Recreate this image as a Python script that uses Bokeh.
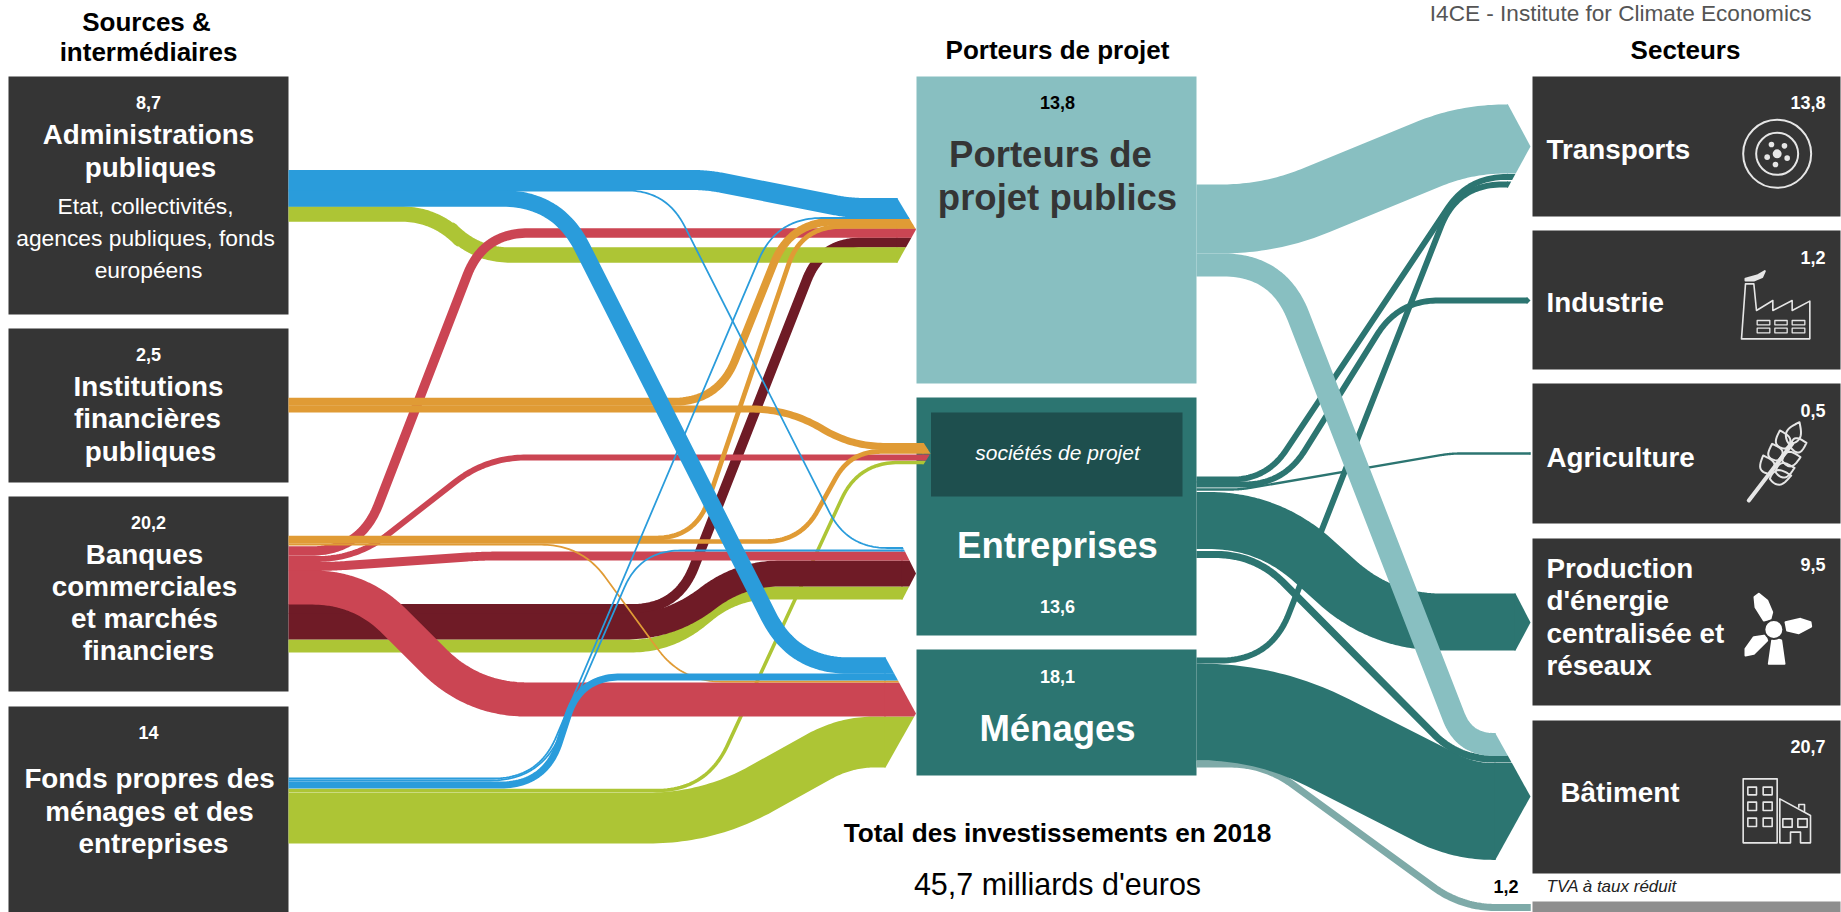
import math
import numpy as np
from bokeh.core.properties import value
from bokeh.embed import file_html
from bokeh.models import Range1d
from bokeh.plotting import figure
from bokeh.resources import INLINE

# ---------- chart values (milliards d'euros) ----------
source_names = ["Administrations publiques", "Institutions financières publiques",
                "Banques commerciales et marchés financiers", "Fonds propres des ménages et des entreprises"]
source_totals = ["8,7", "2,5", "20,2", "14"]
carrier_names = ["Porteurs de projet publics", "Entreprises", "Ménages"]
carrier_totals = ["13,8", "13,6", "18,1"]
sector_names = ["Transports", "Industrie", "Agriculture", "Production d'énergie centralisée et réseaux", "Bâtiment"]
sector_totals = ["13,8", "1,2", "0,5", "9,5", "20,7"]
vat_total = "1,2"
total_label = "45,7 milliards d'euros"

left_link_values = [8.64, 0.6, 2.2, 1.7, 4.4, 2.6, 1.6, 1.0, 1.5, 5.8,
                    1.35, 1.2, 0.8, 0.8, 0.3, 0.3, 0.3, 0.3, 1.2, 3.4, 2.8]
left_link_targets = ["men", "soc", "ent", "por", "ent", "por", "por", "soc", "ent", "men",
                     "por", "soc", "por", "soc", "men", "ent", "por", "ent", "men", "por", "men"]
left_link_colors = ["green", "green", "green", "wine", "wine", "green", "red", "red", "red", "red",
                    "orange", "orange", "orange", "orange", "orange", "blue", "blue", "blue", "blue", "blue", "blue"]

right_link_values = [1.2, 16.4, 1.0, 1.0, 1.0, 0.4, 9.66, 1.2, 3.9, 11.7]
right_link_targets = ["vat", "bat", "tra", "tra", "ind", "agr", "pro", "bat", "bat", "tra"]
right_link_colors = ["vat", "teal", "teal", "teal", "teal", "teal", "teal", "teal", "light", "light"]

# ---------- layout and styles ----------
PX_PER_UNIT = 5.9
COLORS = dict(green="#ADC535", wine="#6F1B26", red="#CB4553", orange="#E09B35", blue="#2A9CDB",
              teal="#2C7571", light="#88BFC1", vat="#7EAAA8")
DARK = "#353535"
FONT = "Liberation Sans"
LEFT_X, MID_X = 288, 1196

# arrow heads: shoulder x, tip x, top y, tip y, bottom y
HEADS = dict(por=(897, 915.5, 198, 229, 262), soc=(923, 930, 442, 453, 464), ent=(902, 915.5, 546, 573, 599),
             men=(885, 915.5, 657, 713, 767), tra=(1507.5, 1530, 104, 146, 187), ind=(1527, 1530, 297, 300, 303),
             agr=(1530, 1530, 452, 453, 454), pro=(1515, 1530, 593, 622, 650), bat=(1495, 1530, 733, 796, 859),
             vat=(1530, 1530, 903, 907, 911))

LEFT_ROUTES = [
    ([(LEFT_X, 817.5), (708, 817.5), (845, 741.5)], [60, 30], 741.5),
    ([(LEFT_X, 790), (706, 790), (858, 462)], [50, 40], 462),
    ([(LEFT_X, 645.5), (670, 645.5), (735, 592.5)], [40, 35], 592.5),
    ([(LEFT_X, 608.5), (677, 608.5), (821, 242)], [45, 40], 242),
    ([(LEFT_X, 626), (670, 626), (740, 573)], [45, 40], 573),
    ([(LEFT_X, 213.5), (435, 213.5), (475, 254.5)], [35, 35], 254.5),
    ([(LEFT_X, 550.5), (360, 550.5), (483, 232.5)], [50, 45], 232.5),
    ([(LEFT_X, 558.5), (356, 558.5), (486, 457)], [40, 40], 457),
    ([(LEFT_X, 566), (330, 566), (482, 555.5)], [15, 15], 555.5),
    ([(LEFT_X, 587), (360, 587), (472, 699)], [48, 55], 699),
    ([(LEFT_X, 401.2), (718, 401.2), (790, 221)], [45, 45], 221),
    ([(LEFT_X, 408.5), (790, 408.5), (850, 446)], [40, 35], 446),
    ([(LEFT_X, 537.5), (695, 537.5), (801, 226)], [40, 40], 226),
    ([(LEFT_X, 541), (800, 541), (850, 451)], [35, 30], 451),
    ([(LEFT_X, 544.2), (581, 544.2), (681, 681)], [40, 40], 681),
    ([(LEFT_X, 190), (666, 190), (847, 547.5)], [40, 40], 547.5),
    ([(LEFT_X, 778), (538, 778), (776, 217.5)], [45, 45], 217.5),
    ([(LEFT_X, 780), (540, 780), (640, 550)], [50, 40], 550),
    ([(LEFT_X, 784.5), (545, 784.5), (580, 676.5)], [45, 40], 676.5),
    ([(LEFT_X, 179.5), (707, 179.5), (849, 207.5)], [15, 15], 207.5),
    ([(LEFT_X, 198), (557, 198), (793, 665)], [55, 55], 665),
]
RIGHT_ROUTES = [
    ([(MID_X, 763.5), (1264, 763.5), (1461, 907)], [35, 35], 907),
    ([(MID_X, 711.5), (1267, 711.5), (1463, 811)], [70, 30], 811),
    ([(MID_X, 660), (1270, 660), (1457, 184)], [50, 45], 184),
    ([(MID_X, 479), (1266, 479), (1468, 176.5)], [35, 40], 176.5),
    ([(MID_X, 484), (1283, 484), (1398, 300)], [40, 40], 300),
    ([(MID_X, 489), (1240, 489), (1450, 453)], [10, 10], 453),
    ([(MID_X, 520), (1268, 520), (1381, 621.5)], [60, 60], 621.5),
    ([(MID_X, 554), (1255, 554), (1458, 758.5)], [40, 36], 758.5),
    ([(MID_X, 264.5), (1278, 264.5), (1464, 744)], [55, 30], 744),
    ([(MID_X, 218.5), (1270, 218.5), (1465, 138.5)], [50, 40], 138.5),
]

p = figure(width=1841, height=912, output_backend="svg", toolbar_location=None,
           x_range=Range1d(0, 1841), y_range=Range1d(912, 0), min_border=0,
           background_fill_color="white", border_fill_color="white", outline_line_color=None)
p.xaxis.visible = False
p.yaxis.visible = False
p.xgrid.visible = False
p.ygrid.visible = False


def rounded(points, radii):
    out = [points[0]]
    for i in range(1, len(points) - 1):
        P = np.array(points[i], float)
        A = np.array(points[i - 1], float)
        B = np.array(points[i + 1], float)
        l1, l2 = np.linalg.norm(P - A), np.linalg.norm(B - P)
        r = min(radii[i - 1], l1 * 0.95, l2 * 0.95)
        a, b = P - (P - A) / l1 * r, P + (B - P) / l2 * r
        for t in np.linspace(0, 1, 28):
            out.append(tuple((1 - t) ** 2 * a + 2 * t * (1 - t) * P + t ** 2 * b))
    out.append(points[-1])
    return out


def head_x(head, y):
    sx, tx, top, tip, bot = head
    half = (tip - top) if y < tip else (bot - tip)
    return tx - (tx - sx) * abs(y - tip) / max(half, 1e-6)


def draw_link(val, target, color, route):
    pts, radii, y_end = route
    head = HEADS[target]
    w = val * PX_PER_UNIT
    line = rounded(list(pts) + [(head[0], y_end)], radii)
    p.line([q[0] for q in line], [q[1] for q in line], line_width=w, line_color=COLORS[color],
           line_join="round", line_cap="butt")
    top, bot = y_end - w / 2, y_end + w / 2
    xs = [head[0] - 1, head_x(head, top)]
    ys = [top, top]
    if top < head[3] < bot:
        xs.append(head[1])
        ys.append(head[3])
    xs += [head_x(head, bot), head[0] - 1]
    ys += [bot, bot]
    p.patch(xs, ys, fill_color=COLORS[color], line_color=None)


def box(l, r, t, b, color):
    p.quad(left=[l], right=[r], top=[t], bottom=[b], fill_color=color, line_color=None)


def label(x, y, text, size, color="white", style="normal", align="center"):
    p.text([x], [y], text=[text], text_font=value(FONT), text_font_size=value(f"{size}px"),
           text_font_style=style, text_color=color, text_align=align, text_baseline="middle")


# boxes
for t, b in [(76, 314), (328, 482), (496, 691), (706, 912)]:
    box(8, 288, t, b, DARK)
box(916, 1196, 76, 383, COLORS["light"])
box(916, 1196, 397, 635, COLORS["teal"])
box(916, 1196, 649, 775, COLORS["teal"])
box(930.5, 1182, 412, 496, "#1E4F4E")
for t, b in [(76, 216), (230, 369), (383, 523), (538, 705), (720, 873)]:
    box(1532, 1840, t, b, DARK)
box(1532, 1840, 901, 912, "#8E8E8E")

# links
for v, tg, c, r in zip(left_link_values, left_link_targets, left_link_colors, LEFT_ROUTES):
    draw_link(v, tg, c, r)
for v, tg, c, r in zip(right_link_values, right_link_targets, right_link_colors, RIGHT_ROUTES):
    draw_link(v, tg, c, r)

# headers
HEAD = 26
label(146, 21, "Sources &", HEAD, "black", "bold")
label(148, 51, "intermédiaires", HEAD, "black", "bold")
label(1057, 49, "Porteurs de projet", HEAD, "black", "bold")
label(1685, 49, "Secteurs", HEAD, "black", "bold")
label(1811, 12.5, "I4CE - Institute for Climate Economics", 22.6, "#555555", "normal", "right")

# left column
NUM = 18
MAIN = 27.8
label(148, 102, source_totals[0], NUM, "white", "bold")
label(148, 134, "Administrations", MAIN, "white", "bold")
label(150, 167, "publiques", MAIN, "white", "bold")
label(145, 205, "Etat, collectivités,", 22.8)
label(145, 237, "agences publiques, fonds", 22.8)
label(148, 269, "européens", 22.8)
label(148, 354, source_totals[1], NUM, "white", "bold")
label(148, 386, "Institutions", MAIN, "white", "bold")
label(147, 418, "financières", MAIN, "white", "bold")
label(150, 451, "publiques", MAIN, "white", "bold")
label(148, 522, source_totals[2], NUM, "white", "bold")
label(144, 554, "Banques", MAIN, "white", "bold")
label(144, 586, "commerciales", MAIN, "white", "bold")
label(144, 618, "et marchés", MAIN, "white", "bold")
label(148, 650, "financiers", MAIN, "white", "bold")
label(148, 732, source_totals[3], NUM, "white", "bold")
label(149, 778, "Fonds propres des", MAIN, "white", "bold")
label(149, 811, "ménages et des", MAIN, "white", "bold")
label(153, 843, "entreprises", MAIN, "white", "bold")

# middle column
label(1057, 102, carrier_totals[0], NUM, "black", "bold")
label(1050, 154, "Porteurs de", 36.5, DARK, "bold")
label(1057, 197, "projet publics", 36.5, DARK, "bold")
label(1057, 452, "sociétés de projet", 21, "white", "italic")
label(1057, 545, carrier_names[1], 36.5, "white", "bold")
label(1057, 606, carrier_totals[1], NUM, "white", "bold")
label(1057, 676, carrier_totals[2], NUM, "white", "bold")
label(1057, 728, carrier_names[2], 36.5, "white", "bold")
label(1057, 832, "Total des investissements en 2018", 26.2, "black", "bold")
label(1057, 883, total_label, 30.5, "black")

# right column
TX = 1546
label(TX, 149, sector_names[0], MAIN, "white", "bold", "left")
label(TX, 302, sector_names[1], MAIN, "white", "bold", "left")
label(TX, 457, sector_names[2], MAIN, "white", "bold", "left")
label(TX, 568, "Production", MAIN, "white", "bold", "left")
label(TX, 600, "d'énergie", MAIN, "white", "bold", "left")
label(TX, 633, "centralisée et", MAIN, "white", "bold", "left")
label(TX, 665, "réseaux", MAIN, "white", "bold", "left")
label(1560, 792, sector_names[4], MAIN, "white", "bold", "left")
for y, t in zip([102, 257, 410, 564, 746], sector_totals):
    label(1825, y, t, NUM, "white", "bold", "right")
label(1518, 886, vat_total, NUM, "black", "bold", "right")
label(TX, 886, "TVA à taux réduit", 17, "#222222", "italic", "left")

# ---------- icons (pictograms) ----------
ICON = "#E6E6E6"


def iz(zx, zy, y0):
    return 1720 + zx / 3, y0 + zy / 3


def poly(points, y0, width=1.6, color=ICON):
    q = [iz(a, b, y0) for a, b in points]
    p.line([c[0] for c in q], [c[1] for c in q], line_color=color, line_width=width, line_join="round",
           line_cap="round")


def fill(points, y0, color="white"):
    q = [iz(a, b, y0) for a, b in points]
    p.patch([c[0] for c in q], [c[1] for c in q], fill_color=color, line_color=color, line_width=2,
            line_join="round")


def rect(l, t, r, b, y0, width=1.6):
    poly([(l, t), (r, t), (r, b), (l, b), (l, t)], y0, width)


# tyre
cx, cy = iz(170, 130, 110)
p.circle([cx, cx], [cy, cy], radius=[34, 21], fill_alpha=0, line_color=ICON, line_width=2)
p.circle([cx], [cy], radius=4.5, fill_color=ICON, line_color=None)
for dx, dy in [(-5.7, -9.3), (7.3, -8), (-10, 3.3), (10, 4.3), (-1.7, 10.7)]:
    p.circle([cx + dx], [cy + dy], radius=2.8, fill_color=ICON, line_color=None)

# factory
poly([(63, 685), (75, 520), (100, 520), (108, 600), (157, 570), (157, 600), (215, 570), (215, 600), (268, 572),
      (268, 685), (63, 685)], 110)
fill([(75, 505), (110, 495), (133, 482), (125, 500), (100, 510), (75, 510)], 110, ICON)
for l, r in [(110, 148), (163, 200), (215, 253)]:
    rect(l, 630, r, 643, 110, 1.3)
    rect(l, 653, r, 667, 110, 1.3)

# wheat
poly([(85, 270), (215, 100)], 410, 4)
for base, tip in [((205, 100), (237, 35)), ((150, 190), (128, 135)), ((172, 150), (155, 100)),
                  ((195, 115), (178, 60)), ((210, 110), (258, 97)), ((185, 150), (240, 140)),
                  ((165, 185), (222, 172)), ((148, 205), (212, 195))]:
    bx, by, tx, ty = base[0], base[1], tip[0], tip[1]
    nx, ny = -(ty - by), tx - bx
    n = math.hypot(nx, ny)
    k = 22 / n
    pts = []
    for t in np.linspace(0, 1, 14):
        pts.append((bx + (tx - bx) * t + nx * k * math.sin(math.pi * t ** 0.8),
                    by + (ty - by) * t + ny * k * math.sin(math.pi * t ** 0.8)))
    for t in np.linspace(1, 0, 14):
        pts.append((bx + (tx - bx) * t - nx * k * math.sin(math.pi * t ** 0.8),
                    by + (ty - by) * t - ny * k * math.sin(math.pi * t ** 0.8)))
    poly(pts, 410, 2)

# wind turbine
fill([(130, 150), (105, 110), (102, 80), (115, 70), (140, 90), (155, 125), (150, 145)], 570)
fill([(195, 155), (240, 145), (270, 155), (272, 168), (235, 188), (200, 180)], 570)
fill([(135, 195), (100, 200), (75, 235), (75, 255), (100, 250), (140, 210)], 570)
fill([(155, 210), (145, 280), (192, 280), (182, 210), (168, 205)], 570)
hx, hy = iz(160, 177, 570)
p.circle([hx], [hy], radius=9.5, fill_color="white", line_color=DARK, line_width=2)

# buildings
rect(68, 55, 170, 247, 760)
for l, r in [(82, 108), (128, 155)]:
    for t, b in [(80, 103), (125, 150), (173, 198)]:
        rect(l, t, r, b, 760)
poly([(178, 247), (178, 115), (270, 165), (270, 247), (240, 247), (240, 215), (210, 215), (210, 247), (178, 247)], 760)
poly([(235, 140), (235, 132), (252, 132), (252, 153)], 760)
rect(187, 175, 215, 200, 760)
rect(232, 175, 260, 200, 760)

open("out.html", "w").write(file_html(p, INLINE))
